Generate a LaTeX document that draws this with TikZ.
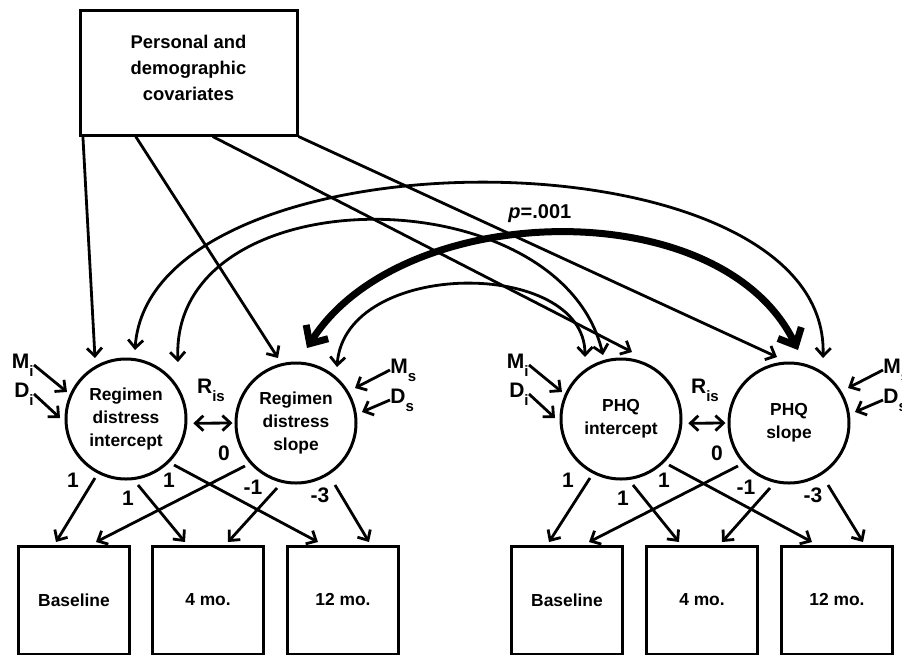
\documentclass[tikz,border=0pt]{standalone}
\usepackage{fontspec}
\setmainfont{Liberation Sans}
\usetikzlibrary{arrows.meta,calc}

\newcommand{\lowsub}[1]{\raisebox{-4pt}{\fontsize{7.5}{8}\selectfont #1}}

\begin{document}
\begin{tikzpicture}[x=0.5pt,y=-0.5pt,>={Straight Barb[length=4pt,width=7.5pt]},
        every node/.style={font=\fontsize{8.7}{11.5}\selectfont\bfseries},
        lat/.style={circle,draw,line width=1.5pt,minimum size=60pt,inner sep=0pt,align=center},
        obs/.style={draw,line width=1.5pt,minimum width=55.5pt,minimum height=54pt},
        arr/.style={->,line width=1.4pt},
        covar/.style={>={Straight Barb[length=4pt,width=7.5pt]},<->,line width=1.4pt},
        bigcovar/.style={>={Straight Barb[length=7pt,width=13pt]},<->,line width=3.5pt},
        lbl/.style={inner sep=0pt,font=\fontsize{10.5}{10.5}\selectfont\bfseries}]
    \clip (0,0) rectangle (902,655);

    % covariates, growth factors and waves
    \node[draw,line width=1.5pt,minimum width=108.5pt,minimum height=62.5pt,align=center,
          font=\fontsize{9.2}{13}\selectfont\bfseries] (cov) at (188.5,72.5)
          {Personal and\\demographic\\covariates\\[-8pt]};
    \node[lat] (ri) at (126,419) {Regimen\\distress\\intercept};
    \node[lat] (rs) at (296,423) {Regimen\\distress\\slope};
    \node[lat] (pi) at (621,419) {PHQ\\intercept};
    \node[lat] (ps) at (789,423) {PHQ\\slope};
    \node[obs] (b1) at (74,600) {Baseline};
    \node[obs] (b2) at (208,600) {4 mo.};
    \node[obs] (b3) at (343,600) {12 mo.};
    \node[obs] (p1) at (567,600) {Baseline};
    \node[obs] (p2) at (702,600) {4 mo.};
    \node[obs] (p3) at (837,600) {12 mo.};

    % covariate paths
    \draw[arr] ($(cov.south west)!.02!(cov.south east)$) -- ($(ri)+(-31,-61)$);
    \draw[arr] ($(cov.south west)!.26!(cov.south east)$) -- ($(rs)+(-18,-65)$);
    \draw[arr] ($(cov.south west)!.61!(cov.south east)$) -- ($(pi)+(11,-67)$);
    \draw[arr] (cov.south east) -- ($(ps)+(-12,-66)$);

    % one growth model per outcome
    \foreach \i/\s/\o/\t/\w in {ri/rs/b1/b2/b3, pi/ps/p1/p2/p3} {
        \draw[arr] ($(\i)+(-31,59)$) -- ($(\o)+(-18,-58)$);
        \draw[arr] ($(\i)+(12,66)$) -- ($(\t)+(-23,-58)$);
        \draw[arr] ($(\i)+(48,46)$) -- ($(\w)+(-25,-58)$);
        \draw[arr] ($(\s)+(-51,43)$) -- ($(\o)+(22,-58)$);
        \draw[arr] ($(\s)+(-19,65)$) -- ($(\t)+(20,-58)$);
        \draw[arr] ($(\s)+(39,62)$) -- ($(\w)+(26,-58)$);
        \node[lbl] (\i-l1) at ($(\i)+(-53,61)$) {1};
        \node[lbl] (\i-l2) at ($(\i)+(2,79)$) {1};
        \node[lbl] (\i-l3) at ($(\i)+(43,61)$) {1};
        \node[lbl] (\s-l1) at ($(\s)+(-72,30)$) {0};
        \node[lbl] (\s-l2) at ($(\s)+(-43,64)$) {-1};
        \node[lbl] (\s-l3) at ($(\s)+(24,72)$) {-3};
        % residuals
        \node[lbl,anchor=east] (\i-M) at ($(\i)+(-92,-54)$) {M\lowsub{i}};
        \node[lbl,anchor=east] (\i-D) at ($(\i)+(-92,-25)$) {D\lowsub{i}};
        \node[lbl,anchor=west] (\s-M) at ($(\s)+(94,-53)$) {M\lowsub{s}};
        \node[lbl,anchor=west] (\s-D) at ($(\s)+(94,-23)$) {D\lowsub{s}};
        \draw[arr] (\i-M.east) -- ($(\i)+(-59,-27)$);
        \draw[arr] (\i-D.east) -- ($(\i)+(-66,-1)$);
        \draw[arr] (\s-M.west) -- ($(\s)+(59,-35)$);
        \draw[arr] (\s-D.west) -- ($(\s)+(66,-11)$);
        \draw[covar,shorten <=3pt,shorten >=1pt] (\i.-4) --
            node[lbl,above=10pt] {R\lowsub{is}} (\s.west);
    }

    % cross-process covariances
    \draw[covar] ($(ri)+(9,-69)$) .. controls (150,126) and (830,126) .. ($(ps)+(34,-65)$);
    \draw[covar] ($(ri)+(52,-57)$) .. controls (170,174) and (560,174) .. ($(pi)+(-18,-64)$);
    \draw[covar] ($(rs)+(41,-56)$) .. controls (345,258) and (585,258) .. ($(pi)+(-36,-62)$);
    \draw[bigcovar] ($(rs)+(11,-75)$) .. controls (400,200) and (720,190) .. ($(ps)+(9,-73)$)
        node[lbl,pos=.47,above=4pt,font=\fontsize{10}{10}\selectfont\bfseries] (pval) {\textit{p}=.001};
\end{tikzpicture}
\end{document}
